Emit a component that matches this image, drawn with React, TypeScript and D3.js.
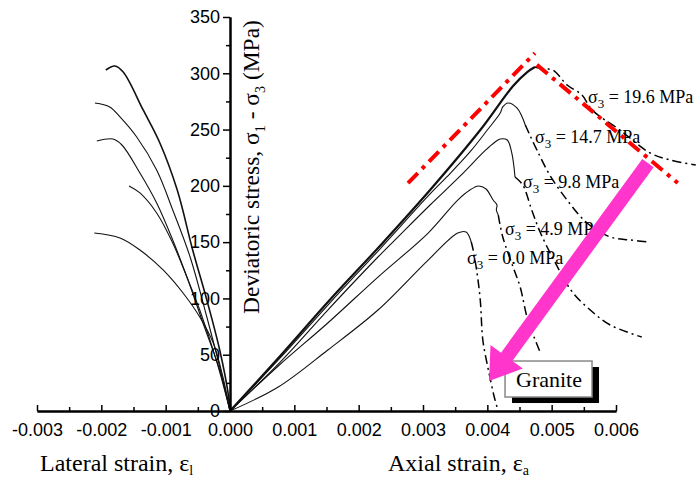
import React, { useEffect, useRef } from "react";
import * as d3 from "d3";

type P = [number, number];

// ---- axis ticks ----
const xTicks = [-0.003, -0.002, -0.001, 0.0, 0.001, 0.002, 0.003, 0.004, 0.005, 0.006];
const xMinorTicks = [-0.0025, -0.0015, -0.0005, 0.0005, 0.0015, 0.0025, 0.0035, 0.0045, 0.0055];
const yTicks = [0, 50, 100, 150, 200, 250, 300, 350];
const yMinorTicks = [25, 75, 125, 175, 225, 275, 325];

// ---- lateral strain curves (strain, stress MPa) ----
const lat196: P[] = [[-0.00193, 302.9], [-0.00179, 306.5], [-0.00166, 301.1], [-0.00135, 267.4], [-0.00109, 238.1], [-0.00082, 196.3], [-0.00058, 143.0], [-0.00036, 98.6], [-0.00016, 54.2], [-0.00003, 16.0], [0, 0]];
const lat147: P[] = [[-0.0021, 273.6], [-0.00187, 270.1], [-0.00171, 261.2], [-0.00145, 243.4], [-0.00114, 214.1], [-0.00089, 178.6], [-0.00062, 136.8], [-0.00036, 83.5], [-0.00016, 39.1], [0, 0]];
const lat98: P[] = [[-0.00207, 239.8], [-0.00182, 241.6], [-0.00168, 236.3], [-0.0014, 211.4], [-0.00114, 184.8], [-0.00089, 151.9], [-0.00067, 119.0], [-0.00042, 78.2], [-0.00016, 36.4], [0, 0]];
const lat49: P[] = [[-0.00157, 199.9], [-0.0014, 193.7], [-0.00114, 175.9], [-0.00089, 149.2], [-0.00067, 119.0], [-0.00047, 89.7], [-0.0002, 42.6], [0, 0]];
const lat00: P[] = [[-0.00211, 158.1], [-0.00171, 153.7], [-0.0014, 143.0], [-0.00104, 125.3], [-0.00073, 104.8], [-0.00047, 83.5], [-0.00026, 60.4], [-0.00011, 30.2], [0, 0]];

// ---- axial strain curves: pre-peak (solid) and post-peak (dash-dot) ----
const ax196: P[] = [[0, 0], [0.00078, 48.9], [0.00155, 98.6], [0.00233, 146.6], [0.00311, 196.3], [0.00389, 249.6], [0.0044, 288.7], [0.00462, 301.1], [0.00474, 305.6]];
const ax196post: P[] = [[0.00474, 305.6], [0.00487, 303.8], [0.00502, 302.9], [0.00524, 289.6], [0.00547, 280.7], [0.00563, 267.4], [0.00606, 249.6], [0.00653, 229.2], [0.00684, 223.0], [0.00724, 218.5]];
const ax147: P[] = [[0, 0], [0.00078, 47.1], [0.00155, 95.9], [0.00233, 143.9], [0.00311, 192.8], [0.00337, 207.9], [0.00373, 230.1], [0.004, 249.6], [0.0042, 264.7], [0.00424, 270.1], [0.00432, 273.6], [0.00446, 269.2], [0.00459, 254.1]];
const ax147post: P[] = [[0.00459, 254.1], [0.00466, 245.2], [0.00477, 231.9], [0.00497, 209.6], [0.00524, 187.4], [0.00555, 167.0], [0.00591, 154.6], [0.00622, 151.9], [0.00653, 150.1]];
const ax98: P[] = [[0, 0], [0.00078, 43.5], [0.00152, 89.7], [0.0023, 136.8], [0.00264, 156.3], [0.00311, 183.0], [0.00358, 208.8], [0.00396, 231.0], [0.00412, 239.0], [0.0042, 241.6], [0.00431, 240.7], [0.00438, 229.2], [0.00443, 207.9]];
const ax98post: P[] = [[0.00443, 207.9], [0.00455, 200.8], [0.00469, 178.6], [0.00482, 159.0], [0.00505, 132.4], [0.00532, 105.7], [0.0056, 89.7], [0.00591, 76.4], [0.0064, 65.7]];
const ax49: P[] = [[0, 0], [0.00075, 40.0], [0.00152, 78.2], [0.0023, 119.0], [0.00308, 158.1], [0.00354, 187.4], [0.00373, 196.3], [0.00386, 199.9], [0.00398, 197.2], [0.00409, 187.4], [0.00415, 183.0], [0.00414, 178.6], [0.00417, 174.1]];
const ax49post: P[] = [[0.00417, 174.1], [0.00424, 154.6], [0.0044, 127.9], [0.00451, 110.2], [0.00463, 80.8], [0.00482, 52.4]];
const ax00: P[] = [[0, 0], [0.00075, 21.3], [0.00152, 54.2], [0.0023, 89.7], [0.00308, 134.1], [0.00354, 158.1], [0.00367, 159.0], [0.00375, 150.1]];
const ax00post: P[] = [[0.00375, 150.1], [0.00378, 143.0], [0.00384, 122.6], [0.00389, 98.6], [0.00393, 63.1], [0.004, 40.9], [0.00404, 30.2], [0.0041, 14.2], [0.00415, 3.6]];

// ---- curve labels ----
const confLabels = ["19.6", "14.7", "9.8", "4.9", "0.0"];
const labelAnchors: P[] = [[0.005565, 273.6], [0.004741, 238.1], [0.004554, 198.1], [0.004275, 156.3], [0.003684, 130.6]];

// ---- annotations (data units) ----
const redLines: [P, P][] = [
  [[0.002767, 202.5], [0.00474, 318]],
  [[0.00477, 307.5], [0.00696, 202.5]],
];
const arrowFrom: P = [0.006497, 220.3];
const arrowTo: P = [0.004026, 26.6];
const boxAnchor: P = [0.004275, 44.4];

const W = 696, H = 479;
const x = d3.scaleLinear().domain([-0.003, 0.006]).range([37, 616]);
const y = d3.scaleLinear().domain([0, 350]).range([411, 17]);

const line = d3.line<P>().x(d => x(d[0])).y(d => y(d[1])).curve(d3.curveCatmullRom.alpha(0.5));

const SERIF = "'Liberation Serif', 'Times New Roman', serif";
const SANS = "'Liberation Sans', Arial, sans-serif";
const DASHDOT = "9,4,2,4";

function Sigma3({ p, text }: { p: P; text: string }) {
  return (
    <text x={x(p[0])} y={y(p[1])} fontFamily={SERIF} fontSize={18} fill="#000">
      σ<tspan dy={5} fontSize={13}>3</tspan><tspan dy={-5}>{` = ${text} MPa`}</tspan>
    </text>
  );
}

export default function App() {
  const xRef = useRef<SVGGElement>(null);
  const yRef = useRef<SVGGElement>(null);

  useEffect(() => {
    const gx = d3.select(xRef.current!);
    gx.selectAll("*").remove();
    gx.append("g").call(
      d3.axisBottom(x).tickValues(xTicks).tickSizeInner(-6).tickSizeOuter(0).tickPadding(12)
        .tickFormat(d => (d as number).toFixed(3))
    );
    gx.append("g").call(d3.axisBottom(x).tickValues(xMinorTicks).tickSizeInner(-4).tickSizeOuter(0).tickFormat(() => ""));
    gx.selectAll("path.domain").attr("stroke-width", 2);
    gx.selectAll(".tick line").attr("stroke-width", 1.5);
    gx.selectAll("text").attr("font-family", SANS).attr("font-size", 18).attr("fill", "#000");

    const gy = d3.select(yRef.current!);
    gy.selectAll("*").remove();
    gy.append("g").call(d3.axisLeft(y).tickValues(yTicks).tickSizeInner(7).tickSizeOuter(0).tickPadding(3).tickFormat(d3.format("d")));
    gy.append("g").call(d3.axisLeft(y).tickValues(yMinorTicks).tickSizeInner(4).tickSizeOuter(0).tickFormat(() => ""));
    gy.selectAll("path.domain").attr("stroke-width", 2);
    gy.selectAll(".tick line").attr("stroke-width", 1.5);
    gy.selectAll("text").attr("font-family", SANS).attr("font-size", 18).attr("fill", "#000");
  }, []);

  const lateral = [lat196, lat147, lat98, lat49, lat00];
  const pre = [ax196, ax147, ax98, ax49, ax00];
  const post = [ax196post, ax147post, ax98post, ax49post, ax00post];

  // arrow geometry
  const ax0 = x(arrowFrom[0]), ay0 = y(arrowFrom[1]);
  const ax1 = x(arrowTo[0]), ay1 = y(arrowTo[1]);
  const L = Math.hypot(ax1 - ax0, ay1 - ay0);
  const ux = (ax1 - ax0) / L, uy = (ay1 - ay0) / L;
  const px = -uy, py = ux;
  const sw = 7, hl = 30, hw = 20;
  const bx = ax1 - ux * hl, by = ay1 - uy * hl;
  const arrowPts = [
    [ax0 + px * sw, ay0 + py * sw],
    [bx + px * sw, by + py * sw],
    [bx + px * hw, by + py * hw],
    [ax1, ay1],
    [bx - px * hw, by - py * hw],
    [bx - px * sw, by - py * sw],
    [ax0 - px * sw, ay0 - py * sw],
  ].map(p => p.join(",")).join(" ");

  const bX = x(boxAnchor[0]), bY = y(boxAnchor[1]);

  return (
    <svg width={W} height={H} style={{ position: "absolute", left: 0, top: 0, background: "#fff" }}>
      <rect x={0} y={0} width={W} height={H} fill="#fff" />
      {lateral.map((d, i) => (
        <path key={"l" + i} d={line(d)!} fill="none" stroke="#111" strokeWidth={i === 0 ? 1.6 : 1.1} />
      ))}
      {pre.map((d, i) => (
        <path key={"p" + i} d={line(d)!} fill="none" stroke="#111" strokeWidth={i === 0 ? 2.2 : 1.1} />
      ))}
      {post.map((d, i) => (
        <path key={"q" + i} d={line(d)!} fill="none" stroke="#000" strokeWidth={1.5} strokeDasharray={DASHDOT} />
      ))}
      {confLabels.map((t, i) => (
        <Sigma3 key={"s" + i} p={labelAnchors[i]} text={t} />
      ))}
      {redLines.map((l, i) => (
        <line key={"r" + i} x1={x(l[0][0])} y1={y(l[0][1])} x2={x(l[1][0])} y2={y(l[1][1])}
          stroke="#ff0000" strokeWidth={4} strokeDasharray="14,6,4,6" />
      ))}
      <g ref={xRef} transform={`translate(0,${y(0)})`} />
      <g ref={yRef} transform={`translate(${x(0)},0)`} />
      <rect x={bX + 7} y={bY + 6} width={87} height={36} fill="#000" />
      <rect x={bX} y={bY} width={87} height={36} fill="#fff" stroke="#888" strokeWidth={1.5} />
      <text x={bX + 44} y={bY + 26} textAnchor="middle" fontFamily={SERIF} fontSize={22} fill="#000">Granite</text>
      <polygon points={arrowPts} fill="#ff35cc" />
      <text x={40} y={471} fontFamily={SERIF} fontSize={24} fill="#000">
        Lateral strain, ε<tspan dy={4} fontSize={14}>l</tspan>
      </text>
      <text x={388} y={471} fontFamily={SERIF} fontSize={24} fill="#000">
        Axial strain, ε<tspan dy={4} fontSize={14}>a</tspan>
      </text>
      <text transform={`translate(259,167) rotate(-90)`} textAnchor="middle" fontFamily={SERIF} fontSize={23.5} fill="#000">
        Deviatoric stress, σ<tspan dy={6} fontSize={14}>1</tspan><tspan dy={-6}> - σ</tspan><tspan dy={6} fontSize={14}>3</tspan><tspan dy={-6}> (MPa)</tspan>
      </text>
    </svg>
  );
}
